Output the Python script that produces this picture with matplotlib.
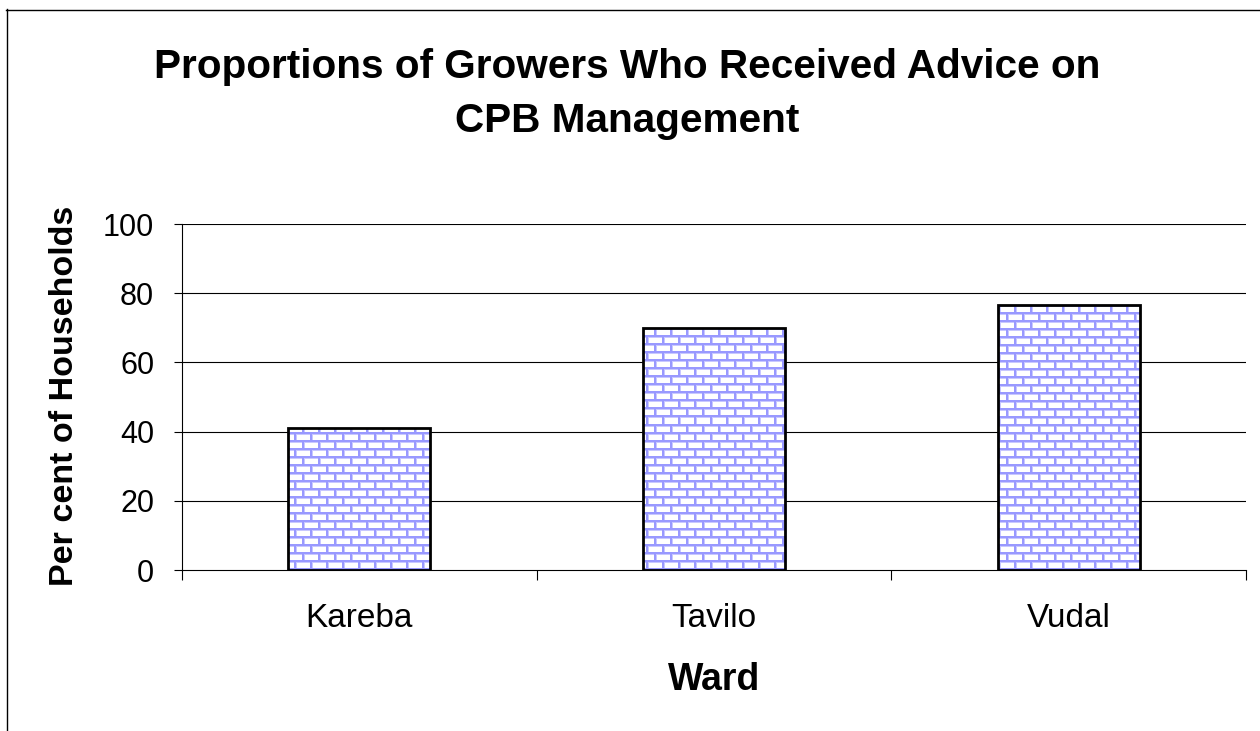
import numpy as np
import matplotlib
matplotlib.use("Agg")
import matplotlib.pyplot as plt
from matplotlib.lines import Line2D

plt.rcParams['font.family'] = ['Liberation Sans', 'DejaVu Sans']

wards = ["Kareba", "Tavilo", "Vudal"]
percent = [41, 70, 76.5]
yticks = [0, 20, 40, 60, 80, 100]
title = "Proportions of Growers Who Received Advice on\nCPB Management"

W, H, DPI = 1260, 731, 100
fig = plt.figure(figsize=(W / DPI, H / DPI), dpi=DPI)
fig.patch.set_facecolor("white")

ax_l, ax_r, ax_t, ax_b = 182, 1246, 224, 570
ax = fig.add_axes([ax_l / W, 1 - ax_b / H, (ax_r - ax_l) / W, (ax_b - ax_t) / H])
ax.set_xlim(-0.5, len(wards) - 0.5)
ax.set_ylim(0, 100)

# gridlines
for v in yticks[1:]:
    ax.axhline(v, color="black", lw=0.8, zorder=1)

x = np.arange(len(wards))
bars = ax.bar(x, percent, width=0.4, facecolor="none", edgecolor="black",
              linewidth=2.0, zorder=4)

# brick texture
pw, ph = ax_r - ax_l, ax_b - ax_t
tex = np.ones((ph, pw, 3))
mortar = np.array([0x99, 0x99, 0xFF]) / 255.0
edge = np.array([0xC8, 0xC8, 0xFF]) / 255.0
rr, cc = np.mgrid[0:ph, 0:pw]
band = rr // 8
shift = (band % 2) * 8
ry = rr % 8
cx = (cc + shift) % 16
edge_mask = (ry == 2) | (cx == 2)
core_mask = (ry < 2) | (cx < 2)
tex[edge_mask] = edge
tex[core_mask] = mortar
for b in bars:
    im = ax.imshow(tex, extent=(-0.5, len(wards) - 0.5, 0, 100), origin="upper",
                   interpolation="nearest", aspect="auto", zorder=3)
    im.set_clip_path(b)

# spines
for s in ["top", "right"]:
    ax.spines[s].set_visible(False)
for s in ["left", "bottom"]:
    ax.spines[s].set_linewidth(0.8)
    ax.spines[s].set_zorder(5)

ax.set_yticks(yticks)
ax.set_yticklabels([str(v) for v in yticks], fontsize=22)
ax.tick_params(axis="y", direction="out", length=6, width=0.8, pad=14)

ax.set_xticks(np.arange(len(wards) + 1) - 0.5)
ax.set_xticklabels([])
ax.set_xticks(x, minor=True)
ax.set_xticklabels(wards, minor=True, fontsize=24)
ax.tick_params(axis="x", which="major", direction="out", length=7, width=0.8)
ax.tick_params(axis="x", which="minor", length=0, pad=24)

ax.set_xlabel("Ward", fontsize=27, fontweight="bold")
ax.xaxis.label.set_va("center")
ax.xaxis.set_label_coords(0.5, (ax_b - 680) / (ax_b - ax_t))

ax.set_ylabel("Per cent of Households", fontsize=24.5, fontweight="bold")
ax.yaxis.label.set_va("center")
ax.yaxis.label.set_ha("center")
ax.yaxis.set_label_coords((65 - ax_l) / (ax_r - ax_l), (ax_b - 396) / (ax_b - ax_t))

fig.text(627 / W, 1 - 94 / H, title, ha="center", va="center", fontsize=29.2,
         fontweight="bold", linespacing=1.55)

# figure border (left and top visible)
fig.add_artist(Line2D([6.5 / W, 6.5 / W], [0, 1 - 9 / H], color="black", lw=1,
                      transform=fig.transFigure))
fig.add_artist(Line2D([6 / W, 1], [1 - 9.5 / H, 1 - 9.5 / H], color="black", lw=1,
                      transform=fig.transFigure))

fig.savefig("out.png", dpi=DPI)
